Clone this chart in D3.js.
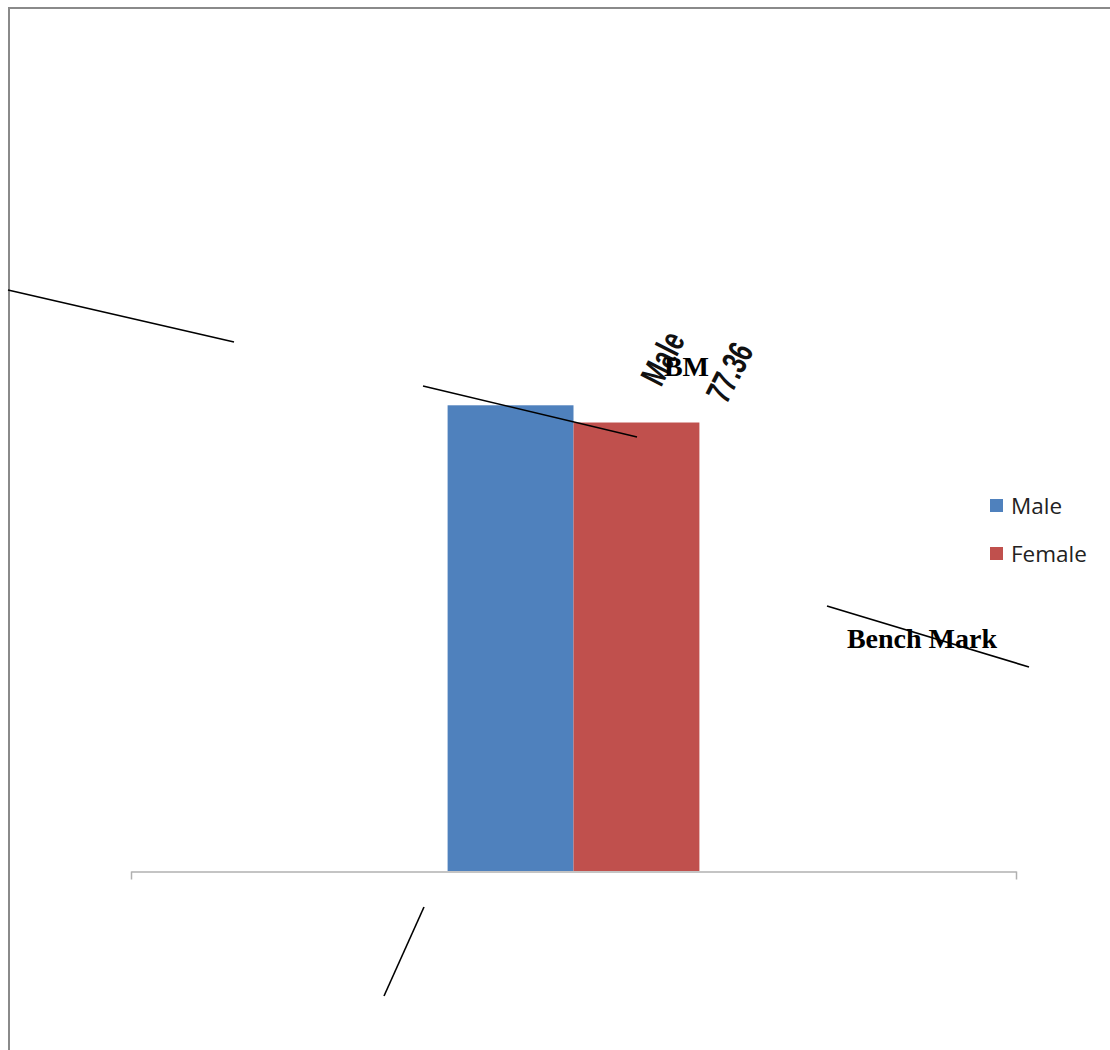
<!DOCTYPE html>
<html>
<head>
	<title>Male vs Female</title>
	<script src="https://cdn.jsdelivr.net/npm/d3@7"></script>
</head>
<style type="text/css">
	body { margin: 0; background-color: #ffffff; }
</style>
<body>
</body>
</html>
<script type="text/javascript">
	var width = 1110;
	var height = 1050;

	// data
	var categories = [""];
	var seriesNames = ["Male", "Female"];
	var seriesValues = [77.36, 74.5];
	var seriesColors = ["#4F81BD", "#C0504D"];
	var labelLines = ["Male", "77.36"];

	var svg = d3.select("body").append("svg").attr("width", width).attr("height", height);

	// chart frame, cropped at right and bottom
	svg.append("path")
		.attr("d", "M9,1050 V8 H1110")
		.attr("fill", "none")
		.attr("stroke", "#8a8a8a")
		.attr("stroke-width", 2);

	var x0 = d3.scaleBand().domain(categories).range([131, 1016]).padding(0.557);
	var x1 = d3.scaleBand().domain(seriesNames).range([0, x0.bandwidth()]).padding(0);
	var y = d3.scaleLinear().domain([0, 100]).range([871, 269]);

	var g = svg.append("g").attr("transform", "translate(" + x0(categories[0]) + ",0)");
	g.selectAll("rect")
		.data(seriesNames)
		.enter()
		.append("rect")
		.attr("x", function(d){ return x1(d); })
		.attr("width", x1.bandwidth())
		.attr("y", function(d, i){ return y(seriesValues[i]); })
		.attr("height", function(d, i){ return y(0) - y(seriesValues[i]); })
		.attr("fill", function(d, i){ return seriesColors[i]; });

	// x axis with end ticks only
	var xAxis = d3.axisBottom(d3.scaleLinear().domain([0, 1]).range([131, 1016]))
		.tickValues([0, 1]).tickFormat("").tickSize(8).tickSizeOuter(0);
	var ax = svg.append("g").attr("transform", "translate(0," + (y(0) + 0.5) + ")").call(xAxis);
	ax.selectAll("path, line").attr("stroke", "#b0b0b0").attr("stroke-width", 1.5);

	// data label of the male bar, two rotated lines
	var lx = x0(categories[0]) + x1("Male") + x1.bandwidth();
	var ly = y(seriesValues[0]);
	var labelOffsets = [[89, -47], [156, -33]];
	svg.selectAll(".vlabel")
		.data(labelLines)
		.enter()
		.append("text")
		.attr("class", "vlabel")
		.attr("transform", function(d, i){
			return "translate(" + (lx + labelOffsets[i][0]) + "," + (ly + labelOffsets[i][1]) + ") rotate(-63) scale(0.7,1)";
		})
		.attr("text-anchor", "middle")
		.attr("dominant-baseline", "central")
		.style("font-family", "'Liberation Sans', Arial, sans-serif")
		.style("font-weight", "bold")
		.style("font-size", "35px")
		.attr("fill", "#111")
		.text(function(d){ return d; });

	// BM marker and bench mark note
	svg.append("text")
		.attr("x", lx + 113).attr("y", ly - 29)
		.attr("text-anchor", "middle")
		.style("font-family", "'Liberation Serif', 'Times New Roman', serif")
		.style("font-weight", "bold").style("font-size", "28px")
		.text("BM");
	svg.append("text")
		.attr("x", 922).attr("y", 648)
		.attr("text-anchor", "middle")
		.style("font-family", "'Liberation Serif', 'Times New Roman', serif")
		.style("font-weight", "bold").style("font-size", "28px")
		.text("Bench Mark");

	// loose connector strokes
	var strokes = [
		[[8, 290], [234, 342]],
		[[423, 386], [637, 437]],
		[[827, 606], [1029, 667]],
		[[424, 907], [384, 996]]
	];
	svg.selectAll(".stroke")
		.data(strokes)
		.enter()
		.append("line")
		.attr("x1", function(d){ return d[0][0]; })
		.attr("y1", function(d){ return d[0][1]; })
		.attr("x2", function(d){ return d[1][0]; })
		.attr("y2", function(d){ return d[1][1]; })
		.attr("stroke", "#000")
		.attr("stroke-width", 1.6);

	// legend
	var legend = svg.selectAll(".legend")
		.data(seriesNames)
		.enter()
		.append("g")
		.attr("class", "legend")
		.attr("transform", function(d, i){ return "translate(990," + (499 + i * 48) + ")"; });
	legend.append("rect")
		.attr("width", 13).attr("height", 13)
		.attr("fill", function(d, i){ return seriesColors[i]; });
	legend.append("text")
		.attr("x", 21).attr("y", 6.5)
		.attr("dominant-baseline", "central")
		.style("font-family", "'Open Sans', sans-serif")
		.style("font-size", "22.5px")
		.attr("fill", "#222")
		.text(function(d){ return d; });
</script>
